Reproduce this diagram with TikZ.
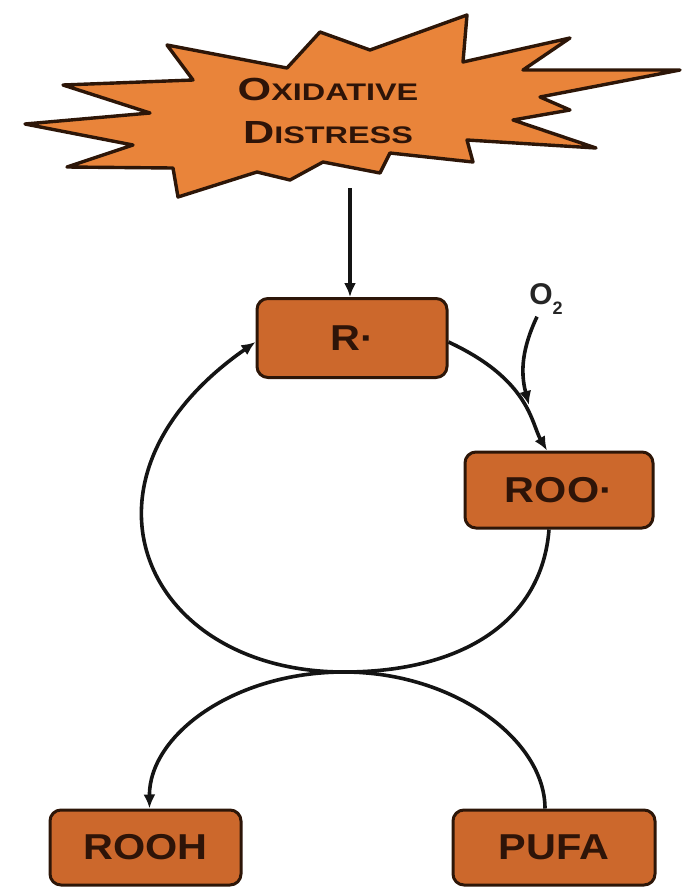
\documentclass[tikz,border=0pt]{standalone}
\usepackage{fontspec}
\usepackage{graphicx}
\setmainfont{Liberation Sans}
\usetikzlibrary{arrows.meta}

\definecolor{starfill}{RGB}{233,132,58}
\definecolor{boxfill}{RGB}{204,104,44}
\definecolor{inkbrown}{RGB}{46,20,8}
\definecolor{edgebrown}{RGB}{45,22,8}

\tikzset{
  species/.style={draw=edgebrown, fill=boxfill, line width=3pt,
    rounded corners=11pt, inner sep=0pt, text=inkbrown,
    font=\fontsize{36}{36}\selectfont\bfseries},
  flow/.style={line width=3.6pt, draw=black!92},
  tip/.style={-{Latex[length=14pt,width=12pt]}},
  burst/.style={draw=edgebrown, fill=starfill, line width=3.4pt, line join=round},
  bursttext/.style={text=inkbrown, inner sep=0pt, anchor=base},
}
\newcommand{\capbig}[1]{{\fontsize{32}{32}\selectfont\bfseries #1}}
\newcommand{\capsmall}[1]{{\fontsize{24}{24}\selectfont\bfseries #1}}
\newcommand{\wide}[1]{\scalebox{1.15}[1]{#1}}

\begin{document}
\begin{tikzpicture}[x=1pt,y=-1pt]
\useasboundingbox (0,0) rectangle (687,887);

% explosion shape
\draw[burst] (25,124) -- (150,113) -- (63,85) -- (193,80) -- (167,45)
  -- (287,68) -- (320,32) -- (370,50) -- (467,15) -- (463,62)
  -- (570,38) -- (523,70) -- (680,70) -- (540,97) -- (570,110)
  -- (513,120) -- (596,148) -- (467,140) -- (473,162) -- (390,153)
  -- (380,173) -- (323,162) -- (290,180) -- (257,172) -- (178,197)
  -- (173,168) -- (67,167) -- (133,145) -- cycle;
\node[bursttext] (ox1) at (328,100)
  {\scalebox{1.35}[1]{\capbig{O}\capsmall{XIDATIVE}}};
\node[bursttext] (ox2) at (328,143)
  {\scalebox{1.35}[1]{\capbig{D}\capsmall{ISTRESS}}};
\coordinate (starbase) at (350,188);

% species
\node[species, minimum width=190pt, minimum height=79pt] (R) at (352,338) {\wide{R·}};
\node[species, minimum width=188pt, minimum height=76pt] (ROO) at (559,490) {\wide{ROO·}};
\node[species, minimum width=191pt, minimum height=75pt] (ROOH) at (145.5,847.5) {\wide{ROOH}};
\node[species, minimum width=202pt, minimum height=75pt] (PUFA) at (554,847.5) {\wide{PUFA}};

% oxygen label
\node[inner sep=0pt, text=black!85, font=\fontsize{30}{30}\selectfont\bfseries] (o2) at (541,299)
  {O\rlap{\raisebox{-10pt}{\fontsize{18}{18}\selectfont 2}}};

% junction of the two cycles
\coordinate (J) at (344,672);
\coordinate (o2end) at (529,405);

% initiation
\draw[flow, tip] (starbase) -- (starbase |- R.north);

% propagation cycle
\draw[flow, tip] ([yshift=-4pt]R.east) .. controls (530,380) and (531,423) .. ([xshift=-12pt]ROO.north);
\draw[flow] ([xshift=-10pt]ROO.south) .. controls (542,620) and (464,672) .. (J);
\draw[flow, tip] (J) .. controls (144,672) and (58,480) .. ([yshift=-4pt]R.west);

% oxygen uptake
\draw[flow, tip] ([xshift=-4pt,yshift=-2pt]o2.south) to[bend right=20] (o2end);

% hydrogen abstraction from PUFA
\draw[flow] ([xshift=-9pt]PUFA.north) .. controls (545,740) and (454,672) .. (J);
\draw[flow, tip] (J) .. controls (234,672) and (149,735) .. ([xshift=4pt]ROOH.north);
\end{tikzpicture}
\end{document}
